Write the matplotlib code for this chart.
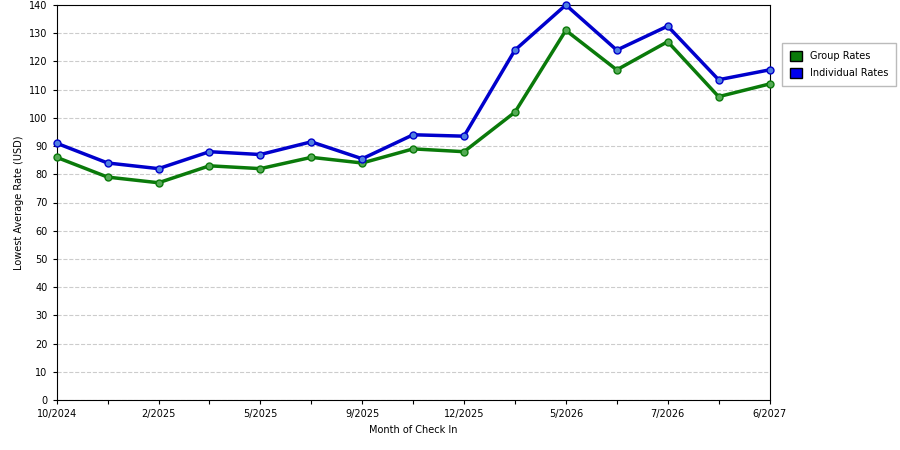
import numpy as np
import matplotlib
matplotlib.use('Agg')
import matplotlib.pyplot as plt
from matplotlib.patches import Patch

months = ['10/2024', '', '2/2025', '', '5/2025', '', '9/2025', '', '12/2025', '',
          '5/2026', '', '7/2026', '', '6/2027']
group_rates = [86, 79, 77, 83, 82, 86, 84, 89, 88, 102, 131, 117, 127, 107.5, 112]
indiv_rates = [91, 84, 82, 88, 87, 91.5, 85.5, 94, 93.5, 124, 140, 124, 132.5, 113.5, 117]

fig = plt.figure(figsize=(9, 4.5), dpi=100)
ax = fig.add_axes([0.063, 0.111, 0.792, 0.878])
x = np.arange(len(months))

ax.plot(x, group_rates, color='#0a7a0a', linewidth=2.5, marker='o', markersize=5,
        markerfacecolor='#55aa55', markeredgecolor='#0a7a0a', zorder=3, clip_on=False)
ax.plot(x, indiv_rates, color='#0000cc', linewidth=2.5, marker='o', markersize=5,
        markerfacecolor='#4f7fe0', markeredgecolor='#0000cc', zorder=3, clip_on=False)

ax.set_xlim(0, len(months) - 1)
ax.set_ylim(0, 140)
ax.set_yticks(range(0, 141, 10))
ax.set_xticks(x)
ax.set_xticklabels(months, fontsize=7)
ax.tick_params(axis='y', labelsize=7, length=3)
ax.tick_params(axis='x', length=3)
ax.grid(axis='y', color='#cccccc', linestyle='--', linewidth=0.8)
ax.set_axisbelow(True)
ax.set_xlabel('Month of Check In', fontsize=7)
ax.set_ylabel('Lowest Average Rate (USD)', fontsize=7)

handles = [Patch(facecolor='#0a7a0a', edgecolor='black', label='Group Rates'),
           Patch(facecolor='#0000ee', edgecolor='black', label='Individual Rates')]
fig.legend(handles=handles, loc='upper left', bbox_to_anchor=(0.864, 0.915),
           fontsize=7, frameon=True, fancybox=False, edgecolor='#aaaaaa',
           handlelength=1.2, handleheight=1.2, borderpad=0.8, labelspacing=0.7,
           handletextpad=0.8)

fig.savefig('out.png', dpi=100)
